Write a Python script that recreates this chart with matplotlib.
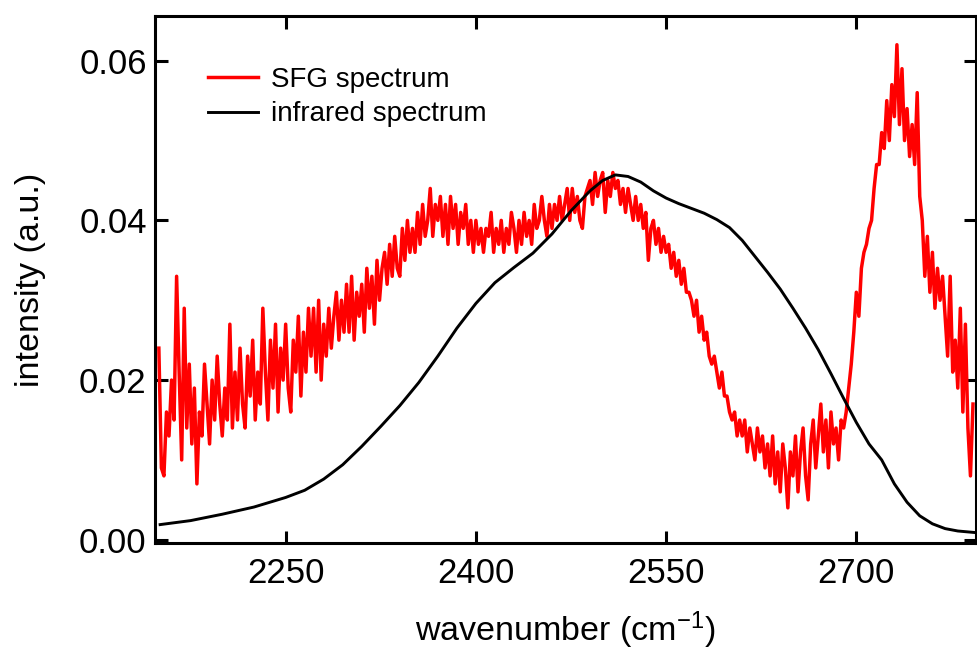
import numpy as np
import matplotlib
matplotlib.use('Agg')
import matplotlib.pyplot as plt

plt.rcParams['font.family'] = ['Liberation Sans', 'DejaVu Sans']
plt.rcParams['mathtext.fontset'] = 'custom'
plt.rcParams['mathtext.rm'] = 'Liberation Sans'
plt.rcParams['mathtext.it'] = 'Liberation Sans:italic'

# SFG spectrum, sampled every 2 cm-1 starting at 2150 (one row = 20 cm-1)
sfg_start = 2150
sfg_step = 2
sfg_values = [
    0.024, 0.009, 0.008, 0.016, 0.013, 0.020, 0.015, 0.033, 0.021, 0.010,  # 2150
    0.029, 0.014, 0.022, 0.012, 0.019, 0.007, 0.016, 0.013, 0.022, 0.017,  # 2170
    0.012, 0.020, 0.015, 0.023, 0.017, 0.013, 0.019, 0.015, 0.027, 0.014,  # 2190
    0.021, 0.015, 0.024, 0.017, 0.014, 0.023, 0.018, 0.025, 0.015, 0.021,  # 2210
    0.017, 0.029, 0.021, 0.015, 0.025, 0.019, 0.027, 0.016, 0.024, 0.020,  # 2230
    0.027, 0.019, 0.016, 0.025, 0.021, 0.028, 0.018, 0.026, 0.021, 0.029,  # 2250
    0.023, 0.029, 0.021, 0.030, 0.020, 0.027, 0.023, 0.029, 0.024, 0.028,  # 2270
    0.031, 0.025, 0.030, 0.026, 0.032, 0.026, 0.033, 0.025, 0.031, 0.028,  # 2290
    0.032, 0.026, 0.034, 0.029, 0.033, 0.027, 0.035, 0.030, 0.034, 0.036,  # 2310
    0.032, 0.037, 0.033, 0.038, 0.034, 0.033, 0.039, 0.035, 0.040, 0.036,  # 2330
    0.039, 0.036, 0.041, 0.037, 0.042, 0.038, 0.040, 0.044, 0.038, 0.042,  # 2350
    0.040, 0.043, 0.038, 0.042, 0.037, 0.043, 0.039, 0.042, 0.037, 0.041,  # 2370
    0.039, 0.042, 0.037, 0.040, 0.036, 0.040, 0.037, 0.039, 0.036, 0.039,  # 2390
    0.038, 0.041, 0.036, 0.039, 0.037, 0.040, 0.036, 0.039, 0.037, 0.041,  # 2410
    0.039, 0.036, 0.040, 0.037, 0.041, 0.038, 0.040, 0.037, 0.042, 0.039,  # 2430
    0.040, 0.043, 0.040, 0.038, 0.042, 0.039, 0.042, 0.040, 0.043, 0.040,  # 2450
    0.042, 0.044, 0.040, 0.044, 0.041, 0.043, 0.040, 0.039, 0.043, 0.044,  # 2470
    0.045, 0.042, 0.046, 0.043, 0.045, 0.046, 0.041, 0.045, 0.043, 0.046,  # 2490
    0.044, 0.045, 0.042, 0.044, 0.041, 0.044, 0.042, 0.040, 0.043, 0.040,  # 2510
    0.042, 0.039, 0.041, 0.035, 0.039, 0.040, 0.037, 0.039, 0.036, 0.038,  # 2530
    0.036, 0.037, 0.034, 0.036, 0.033, 0.035, 0.032, 0.034, 0.031, 0.031,  # 2550
    0.030, 0.028, 0.030, 0.026, 0.028, 0.025, 0.026, 0.023, 0.022, 0.023,  # 2570
    0.021, 0.019, 0.021, 0.018, 0.018, 0.016, 0.015, 0.016, 0.013, 0.015,  # 2590
    0.013, 0.015, 0.011, 0.014, 0.012, 0.010, 0.014, 0.011, 0.013, 0.009,  # 2610
    0.012, 0.008, 0.013, 0.007, 0.011, 0.006, 0.012, 0.009, 0.004, 0.011,  # 2630
    0.008, 0.013, 0.006, 0.011, 0.014, 0.008, 0.005, 0.012, 0.015, 0.009,  # 2650
    0.013, 0.017, 0.011, 0.015, 0.009, 0.016, 0.012, 0.014, 0.010, 0.015,  # 2670
    0.014, 0.016, 0.019, 0.022, 0.026, 0.031, 0.028, 0.034, 0.036, 0.037,  # 2690
    0.039, 0.040, 0.044, 0.047, 0.047, 0.051, 0.049, 0.055, 0.050, 0.057,  # 2710
    0.053, 0.062, 0.052, 0.059, 0.050, 0.054, 0.048, 0.052, 0.047, 0.056,  # 2730
    0.043, 0.040, 0.033, 0.038, 0.031, 0.036, 0.029, 0.034, 0.030, 0.033,  # 2750
    0.028, 0.023, 0.033, 0.021, 0.025, 0.019, 0.029, 0.016, 0.027, 0.014,  # 2770
    0.008, 0.017,                                                          # 2790
]
sfg_wn = sfg_start + sfg_step * np.arange(len(sfg_values))

# infrared spectrum (smooth)
ir_wn = [2151, 2175, 2200, 2225, 2250, 2265, 2280, 2295, 2310, 2325,
         2340, 2355, 2370, 2385, 2400, 2415, 2430, 2445, 2460, 2475,
         2490, 2500, 2510, 2520, 2530, 2540, 2550, 2560, 2570, 2580,
         2590, 2600, 2610, 2620, 2630, 2640, 2650, 2660, 2670, 2680,
         2690, 2700, 2710, 2720, 2730, 2740, 2750, 2760, 2770, 2780, 2794]
ir_values = [0.0019, 0.0024, 0.0032, 0.0041, 0.0053, 0.0062, 0.0076, 0.0094, 0.0117, 0.0142,
             0.0168, 0.0197, 0.0230, 0.0265, 0.0296, 0.0322, 0.0341, 0.0359, 0.0383, 0.0412,
             0.0437, 0.0450, 0.0457, 0.0455, 0.0448, 0.0437, 0.0428, 0.0421, 0.0415, 0.0409,
             0.0401, 0.0391, 0.0375, 0.0355, 0.0335, 0.0314, 0.0290, 0.0265, 0.0238, 0.0208,
             0.0177, 0.0147, 0.0120, 0.0100, 0.0070, 0.0047, 0.0030, 0.0020, 0.0014, 0.0011, 0.0009]

x_ticks = [2250, 2400, 2550, 2700]
y_ticks = [0.00, 0.02, 0.04, 0.06]

fig = plt.figure(figsize=(9.77, 6.53), dpi=100)
ax = fig.add_axes([0.1587, 0.1685, 0.8398, 0.807])

ax.plot(sfg_wn, sfg_values, color='#ff0000', lw=2.5, label='SFG spectrum')
ax.plot(ir_wn, ir_values, color='black', lw=2.1, label='infrared spectrum')

ax.set_xlim(2147, 2794)
ax.set_ylim(-0.0004, 0.0656)
ax.set_xticks(x_ticks)
ax.set_yticks(y_ticks)
ax.set_yticklabels([f'{v:.2f}' for v in y_ticks])

ax.tick_params(direction='in', length=9, width=2.2, labelsize=25,
               top=True, right=True, pad=6)
ax.tick_params(axis='x', pad=10)
for s in ax.spines.values():
    s.set_linewidth(2.2)

ax.set_xlabel('wavenumber (cm$^{-1}$)', fontsize=24.5, labelpad=14)
ax.set_ylabel('intensity (a.u.)', fontsize=24.5, labelpad=24)

ax.legend(loc='upper left', bbox_to_anchor=(0.064, 0.903), frameon=False,
          fontsize=20, handlelength=1.8, handletextpad=0.5,
          labelspacing=0.3, borderpad=0, borderaxespad=0)

fig.savefig('out.png', dpi=100)
